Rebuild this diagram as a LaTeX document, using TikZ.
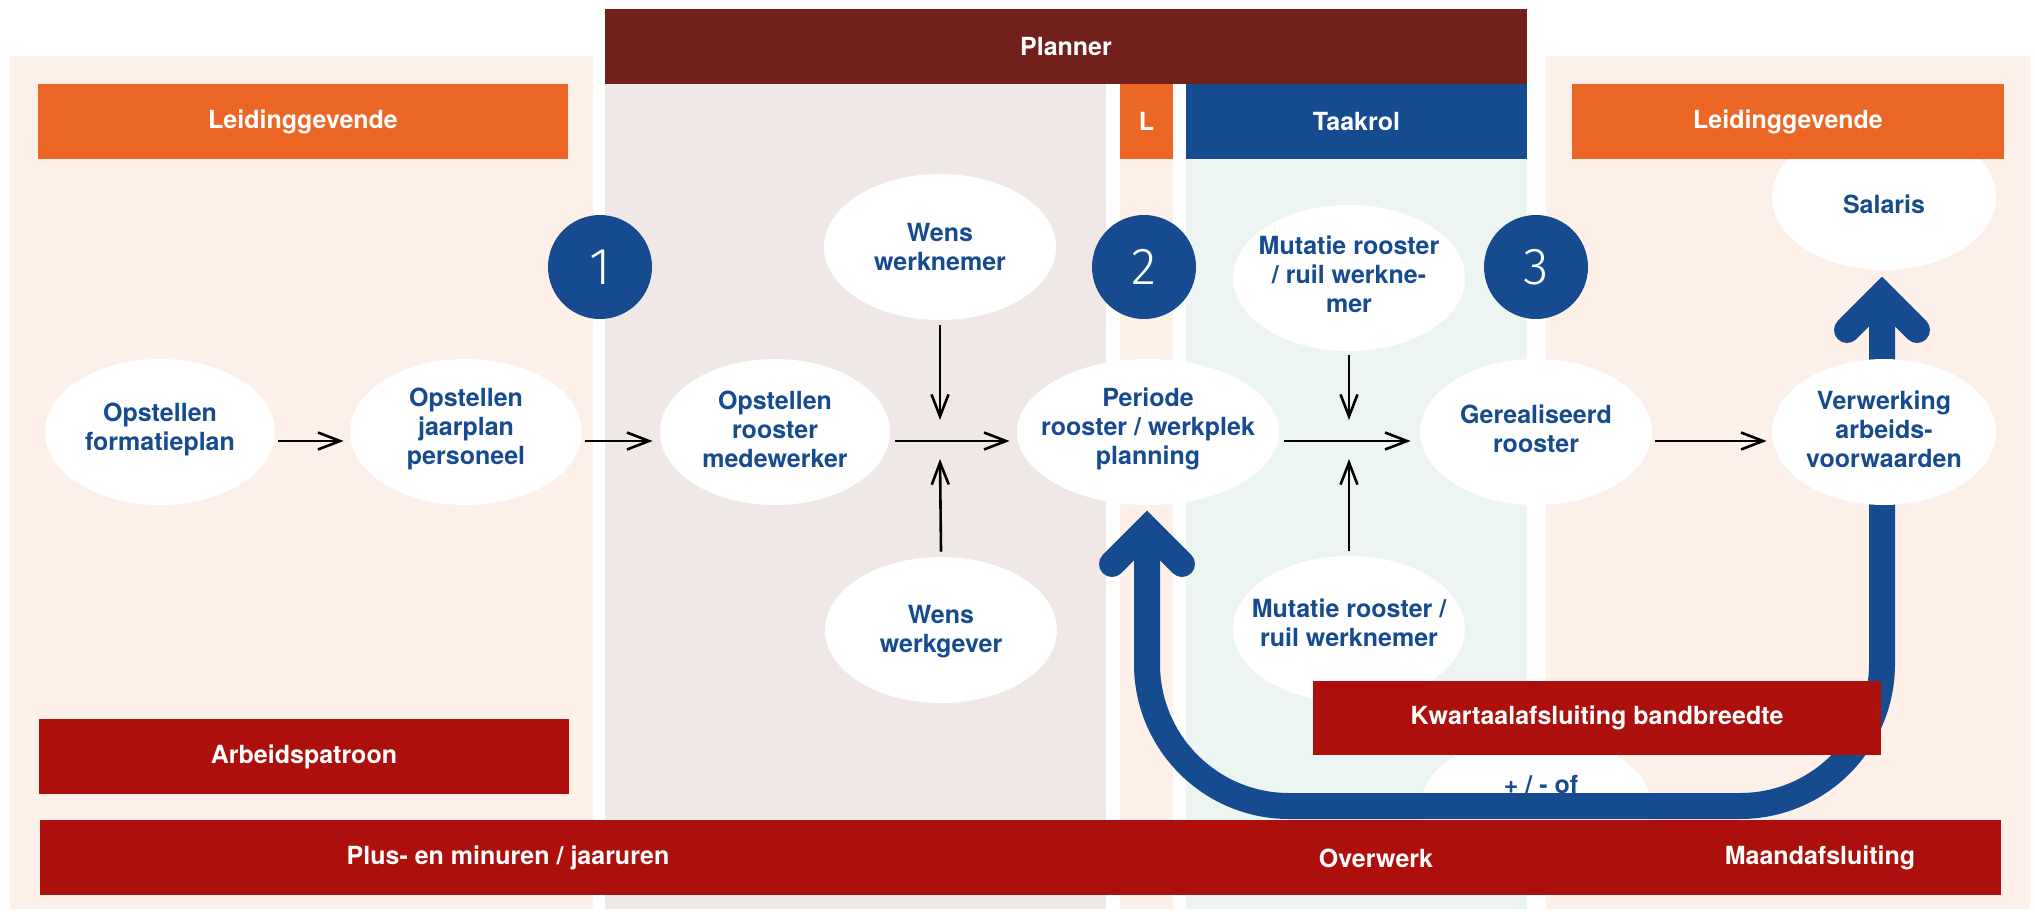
\documentclass[tikz,border=0pt]{standalone}
\usepackage{fontspec}
\setmainfont{TeX Gyre Heros}
\newfontfamily\numfont{Fira Sans Light}
\usetikzlibrary{shapes.geometric,arrows.meta,calc}
\definecolor{peach}{HTML}{FCF0E8}
\definecolor{plannerbg}{HTML}{F0E8E6}
\definecolor{tealbg}{HTML}{EDF5F3}
\definecolor{orangebar}{HTML}{EC6726}
\definecolor{darkred}{HTML}{72201C}
\definecolor{redbar}{HTML}{AD100C}
\definecolor{myblue}{HTML}{164B8F}
\newcommand\lblfont{\fontsize{12.5}{14.5}\selectfont\bfseries}
\begin{document}
\begin{tikzpicture}[x=0.5pt,y=-0.5pt,
  bar/.style={fill=#1, text=white, inner sep=0pt, font=\lblfont, minimum height=37.5pt},
  ell/.style={ellipse, fill=white, draw=none, inner sep=0pt, minimum height=73pt, minimum width=#1},
  ell/.default=116pt,
  txt/.style={align=center, text=myblue, font=\lblfont, inner sep=0pt},
  wtxt/.style={text=white, font=\lblfont, inner sep=0pt},
  arr/.style={draw=black, line width=1.3pt, -{Straight Barb[length=11pt,width=8.5pt,line width=1.3pt]}},
  bigblue/.style={draw=myblue, line width=13pt},
  numc/.style={circle, fill=myblue, text=white, minimum size=52pt, inner sep=0pt, font={\numfont\fontsize{26}{26}\selectfont}}]
\useasboundingbox (0,0) rectangle (2035,911);
\fill[white] (0,0) rectangle (2035,911);
% backgrounds
\fill[peach] (10,56) rectangle (593,909);
\fill[plannerbg] (605,84) rectangle (1106,909);
\fill[peach] (1120,84) rectangle (1173,909);
\fill[tealbg] (1186,84) rectangle (1527,909);
\fill[peach] (1546,56) rectangle (2030,909);
% ellipse under the loop
\node[ell] (pm) at (1536,808) {};
\node[txt] (pmt) at (1541,785) {+ / - of};
% big loop
\coordinate (hr) at (1882,295);
\coordinate (hl) at (1147,529);
\coordinate (cr) at (1882,806);
\coordinate (cl) at (1147,806);
\draw[bigblue, rounded corners=71pt] (hr) -- (cr) -- (cl) -- (hl);
\draw[bigblue, line cap=round, line join=miter] ($(hr)+(-35,35)$) -- (hr) -- ($(hr)+(35,35)$);
\draw[bigblue, line cap=round, line join=miter] ($(hl)+(-35,35)$) -- (hl) -- ($(hl)+(35,35)$);
% ellipses
\node[ell=115pt] (e1) at (160,432) {};
\node[ell] (e2) at (466,432) {};
\node[ell=115pt] (e3) at (775,432) {};
\node[ell=131pt] (e4) at (1148,432) {};
\node[ell] (e5) at (1536,432) {};
\node[ell=112pt] (e6) at (1884,432) {};
\node[ell] (w1) at (940,247) {};
\node[ell] (w2) at (941,630) {};
\node[ell] (m1) at (1349,278) {};
\node[ell] (m2) at (1349,629) {};
\node[ell=112pt] (sal) at (1884,197) {};
\node[txt] (t1) at (160,429) {Opstellen\\formatieplan};
\node[txt] (t2) at (466,429) {Opstellen\\jaarplan\\personeel};
\node[txt] (t3) at (775,429) {Opstellen\\rooster\\medewerker};
\node[txt] (t4) at (1148,429) {Periode\\rooster / werkplek\\planning};
\node[txt] (t5) at (1536,429) {Gerealiseerd\\rooster};
\node[txt] (t6) at (1884,429) {Verwerking\\arbeids-\\voorwaarden};
\node[txt] (tw1) at (940,247) {Wens\\werknemer};
\node[txt] (tw2) at (941,632) {Wens\\werkgever};
\node[txt] (tm1) at (1349,274) {Mutatie rooster\\/ ruil werkne-\\mer};
\node[txt] (tm2) at (1349,623) {Mutatie rooster /\\ruil werknemer};
\node[txt] (tsal) at (1884,204) {Salaris};
% header bars
\node[bar=darkred, minimum width=461pt] (planner) at (1066,46.5) {Planner};
\node[bar=orangebar, minimum width=265pt] (lg1) at (303,121.5) {Leidinggevende};
\node[bar=orangebar, minimum width=26.5pt] (lcol) at (1146.5,121.5) {L};
\node[bar=myblue, minimum width=170.5pt] (taak) at (1356.5,121.5) {Taakrol};
\node[bar=orangebar, minimum width=216pt] (lg2) at (1788,121.5) {Leidinggevende};
% red bars
\node[bar=redbar, minimum width=265pt] (arb) at (304,756.5) {Arbeidspatroon};
\node[bar=redbar, minimum width=284pt, minimum height=37pt] (kw) at (1597,718) {Kwartaalafsluiting bandbreedte};
\node[bar=redbar, minimum width=980.5pt] (bottom) at (1020.5,857.5) {};
\node[wtxt] (pmin) at (508,858) {Plus- en minuren / jaaruren};
\node[wtxt] (over) at (1376,858) {Overwerk};
\node[wtxt] (maand) at (1820,858) {Maandafsluiting};
% number circles
\node[numc] (n1) at (600,267) {1};
\node[numc] (n2) at (1144,267) {2};
\node[numc] (n3) at (1536,267) {3};
% thin arrows
\coordinate (j1) at (940,441);
\coordinate (j2) at (1349,441);
\draw[arr] ($(e1.east)+(3,9)$) -- ($(e2.west)+(-6,9)$);
\draw[arr] ($(e2.east)+(3,9)$) -- ($(e3.west)+(-7,9)$);
\draw[arr] ($(e3.east)+(5,9)$) -- ($(e4.west)+(-7,9)$);
\draw[arr] ($(e4.east)+(5,9)$) -- ($(e5.west)+(-9,9)$);
\draw[arr] ($(e5.east)+(3,9)$) -- ($(e6.west)+(-5,9)$);
\draw[arr] ($(w1.south)+(0,5)$) -- ($(j1)+(0,-21)$);
\draw[arr] ($(w2.north)+(0,-5)$) -- ($(j1)+(0,18)$);
\draw[arr] ($(m1.south)+(0,4)$) -- ($(j2)+(0,-21)$);
\draw[arr] ($(m2.north)+(0,-5)$) -- ($(j2)+(0,18)$);
\end{tikzpicture}
\end{document}
